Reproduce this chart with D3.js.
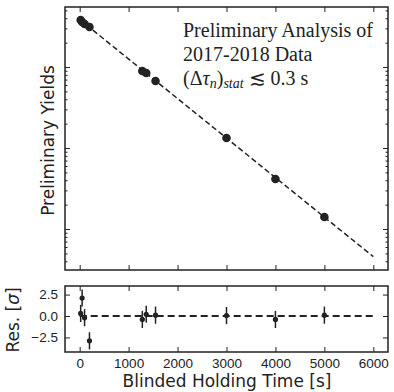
<!DOCTYPE html>
<html>
<head>
<meta charset="utf-8">
<script src="https://cdn.jsdelivr.net/npm/d3@7"></script>
<style>
  body { margin: 0; background: #fff; }
  svg { display: block; }
</style>
</head>
<body>
<div id="chart"></div>
<script>
const width = 394;
const height = 392;

// Data
const times = [20, 50, 100, 200, 1280, 1360, 1550, 3000, 4000, 5000];
const yields = [38000, 35900, 34000, 31200, 8930, 8430, 6710, 1330, 414, 141];
const residuals = [0.3, 2.1, -0.2, -2.9, -0.4, 0.2, 0.1, 0.05, -0.4, 0.1];
const resErrors = [1, 1, 1, 1, 1, 1, 1, 1, 1, 1];
const fitTimes = [0, 6000];
const fitYields = [38600, 45.6];
const xTicks = [0, 1000, 2000, 3000, 4000, 5000, 6000];
const resTicks = [-2.5, 0, 2.5];

const ink = "#222";
const left = 65, right = 388;
const mainTop = 7, mainBottom = 270;
const resTop = 286, resBottom = 352;

const svg = d3.select("#chart").append("svg")
    .attr("width", width)
    .attr("height", height)
    .style("font-family", "'DejaVu Sans', sans-serif");

const x = d3.scaleLinear().domain([-300, 6300]).range([left, right]);
const y = d3.scaleLog().domain([31.2, 55100]).range([mainBottom, mainTop]);
const yRes = d3.scaleLinear().domain([-4.2, 3.5]).range([resBottom, resTop]);

// tick helper: inward ticks, hide domain path
function styleAxis(g) {
    g.select(".domain").remove();
    g.selectAll(".tick line").attr("stroke", ink).attr("stroke-width", 1);
    g.selectAll("text").attr("fill", ink).style("font-size", "13.5px");
}

// ---- main panel ----
const main = svg.append("g");

const minorTicks = [];
for (let e = 1; e <= 4; e++) {
    for (let m = 2; m <= 9; m++) {
        const v = m * Math.pow(10, e);
        if (v > y.domain()[0] && v < y.domain()[1]) minorTicks.push(v);
    }
}
const majorTicks = [100, 1000, 10000];

main.append("g")
    .attr("transform", `translate(0,${mainBottom})`)
    .call(d3.axisBottom(x).tickValues(xTicks).tickSize(-5).tickFormat(""))
    .call(styleAxis);
main.append("g")
    .attr("transform", `translate(0,${mainTop})`)
    .call(d3.axisTop(x).tickValues(xTicks).tickSize(-5).tickFormat(""))
    .call(styleAxis);
[[left, d3.axisLeft], [right, d3.axisRight]].forEach(([px, axis]) => {
    main.append("g")
        .attr("transform", `translate(${px},0)`)
        .call(axis(y).tickValues(majorTicks).tickSize(-5).tickFormat(""))
        .call(styleAxis);
    main.append("g")
        .attr("transform", `translate(${px},0)`)
        .call(axis(y).tickValues(minorTicks).tickSize(-2.5).tickFormat(""))
        .call(styleAxis);
});

main.append("path")
    .datum(fitTimes.map((t, i) => [t, fitYields[i]]))
    .attr("fill", "none")
    .attr("stroke", ink)
    .attr("stroke-width", 1.5)
    .attr("stroke-dasharray", "5.5,3")
    .attr("d", d3.line().x(d => x(d[0])).y(d => y(d[1])));

main.selectAll("circle")
    .data(times.map((t, i) => [t, yields[i]]))
    .join("circle")
    .attr("cx", d => x(d[0]))
    .attr("cy", d => y(d[1]))
    .attr("r", 4.3)
    .attr("fill", ink);

main.append("rect")
    .attr("x", left).attr("y", mainTop)
    .attr("width", right - left).attr("height", mainBottom - mainTop)
    .attr("fill", "none").attr("stroke", ink).attr("stroke-width", 1.5);

main.append("text")
    .attr("transform", `translate(54,${(mainTop + mainBottom) / 2 + 2}) rotate(-90)`)
    .attr("text-anchor", "middle")
    .attr("fill", ink)
    .style("font-size", "17px")
    .text("Preliminary Yields");

const note = main.append("text")
    .attr("fill", ink)
    .style("font-family", "'Liberation Serif', 'Times New Roman', serif")
    .style("font-size", "20px");
note.append("tspan").attr("x", 183).attr("y", 36.5).text("Preliminary Analysis of");
note.append("tspan").attr("x", 183).attr("y", 60.5).text("2017-2018 Data");
const l3 = note.append("tspan").attr("x", 183).attr("y", 84.5);
l3.append("tspan").text("(Δ");
l3.append("tspan").style("font-style", "italic").text("τ");
l3.append("tspan").style("font-style", "italic").style("font-size", "14px").attr("dy", 3).text("n");
l3.append("tspan").attr("dy", -3).text(")");
l3.append("tspan").style("font-style", "italic").style("font-size", "14px").attr("dy", 3).text("stat");
l3.append("tspan").attr("dy", -3).text(" ≲ 0.3  s");

// ---- residual panel ----
const res = svg.append("g");

res.append("g")
    .attr("transform", `translate(0,${resBottom})`)
    .call(d3.axisBottom(x).tickValues(xTicks).tickSize(-5).tickPadding(6).tickFormat(d3.format("d")))
    .call(styleAxis);
res.append("g")
    .attr("transform", `translate(0,${resTop})`)
    .call(d3.axisTop(x).tickValues(xTicks).tickSize(-5).tickFormat(""))
    .call(styleAxis);
res.append("g")
    .attr("transform", `translate(${left},0)`)
    .call(d3.axisLeft(yRes).tickValues(resTicks).tickSize(-5).tickPadding(7)
        .tickFormat(d => d3.format(".1f")(d).replace("-", "−")))
    .call(styleAxis);
res.append("g")
    .attr("transform", `translate(${right},0)`)
    .call(d3.axisRight(yRes).tickValues(resTicks).tickSize(-5).tickFormat(""))
    .call(styleAxis);

res.append("line")
    .attr("x1", x(fitTimes[0])).attr("x2", x(fitTimes[1]))
    .attr("y1", yRes(0)).attr("y2", yRes(0))
    .attr("stroke", ink)
    .attr("stroke-width", 1.8)
    .attr("stroke-dasharray", "7,4");

const pts = times.map((t, i) => ({ t, r: residuals[i], e: resErrors[i] }));
res.selectAll(".err")
    .data(pts)
    .join("line")
    .attr("class", "err")
    .attr("x1", d => x(d.t)).attr("x2", d => x(d.t))
    .attr("y1", d => yRes(d.r - d.e)).attr("y2", d => yRes(d.r + d.e))
    .attr("stroke", ink)
    .attr("stroke-width", 1.5);
res.selectAll(".pt")
    .data(pts)
    .join("circle")
    .attr("class", "pt")
    .attr("cx", d => x(d.t))
    .attr("cy", d => yRes(d.r))
    .attr("r", 2.6)
    .attr("fill", ink);

res.append("rect")
    .attr("x", left).attr("y", resTop)
    .attr("width", right - left).attr("height", resBottom - resTop)
    .attr("fill", "none").attr("stroke", ink).attr("stroke-width", 1.5);

const resLabel = res.append("text")
    .attr("transform", `translate(19,${(resTop + resBottom) / 2 + 1}) rotate(-90)`)
    .attr("text-anchor", "middle")
    .attr("fill", ink)
    .style("font-size", "17px");
resLabel.append("tspan").text("Res. [");
resLabel.append("tspan").style("font-style", "italic").text("σ");
resLabel.append("tspan").text("]");

svg.append("text")
    .attr("x", (left + right) / 2 + 0.5)
    .attr("y", 387)
    .attr("text-anchor", "middle")
    .attr("fill", ink)
    .style("font-size", "17px")
    .text("Blinded Holding Time [s]");
</script>
</body>
</html>
